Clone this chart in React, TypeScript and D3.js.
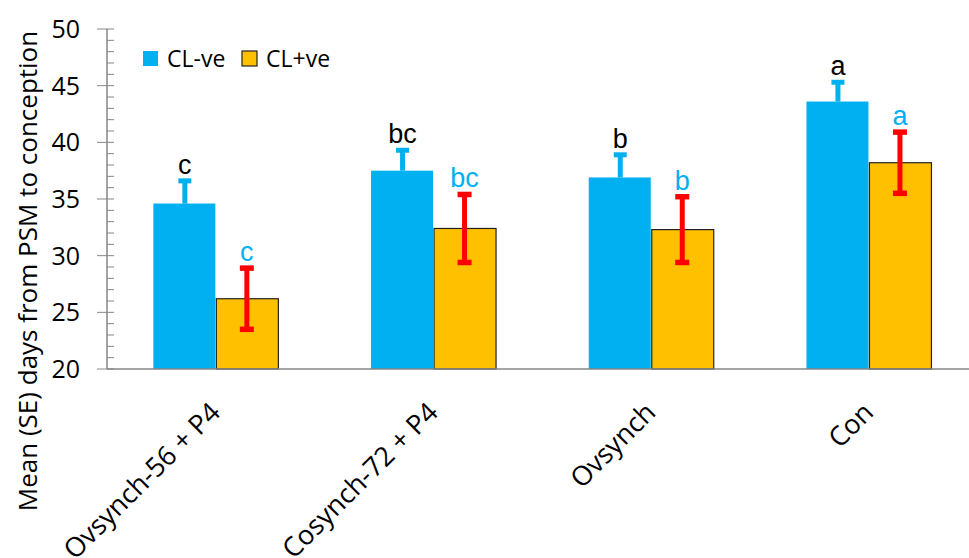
import { useRef, useEffect } from "react";
import * as d3 from "d3";

const categories = ["Ovsynch-56 + P4", "Cosynch-72 + P4", "Ovsynch", "Con"];
const series = ["CL-ve", "CL+ve"];
const clNeg = [34.6, 37.5, 36.9, 43.6];
const clNegSE = [2.0, 1.8, 2.0, 1.7];
const clPos = [26.2, 32.4, 32.3, 38.2];
const clPosSE = [2.7, 3.0, 2.9, 2.7];
const clNegLetters = ["c", "bc", "b", "a"];
const clPosLetters = ["c", "bc", "b", "a"];
const yTicks = [20, 25, 30, 35, 40, 45, 50];

const BLUE = "#00B0F0";
const ORANGE = "#FFC000";
const RED = "#FF0000";
const AXIS = "#868686";
const FONT = "'Open Sans', 'Noto Sans', sans-serif";
const LETTER_FONT = "'Liberation Sans', Arial, sans-serif";

const App = () => {
  const ref = useRef<SVGSVGElement>(null);

  useEffect(() => {
    if (!ref.current) return;
    const svg = d3.select(ref.current);
    svg.selectAll("*").remove();

    const left = 107;
    const step = 217.7;
    const x0 = d3
      .scaleBand<string>()
      .domain(categories)
      .range([left, left + step * categories.length]);
    const barW = 62;
    const y = d3.scaleLinear().domain([20, 50]).range([369, 29]);

    // minor ticks (inside)
    const minor = d3.range(20, 51, 1).filter((v) => v % 5 !== 0);
    svg
      .append("g")
      .selectAll("line")
      .data(minor)
      .join("line")
      .attr("x1", left)
      .attr("x2", left + 7)
      .attr("y1", (d) => y(d))
      .attr("y2", (d) => y(d))
      .attr("stroke", AXIS)
      .attr("stroke-width", 1);

    // major ticks
    svg
      .append("g")
      .selectAll("line")
      .data(yTicks)
      .join("line")
      .attr("x1", left - 10)
      .attr("x2", left + 7)
      .attr("y1", (d) => y(d))
      .attr("y2", (d) => y(d))
      .attr("stroke", AXIS)
      .attr("stroke-width", 1);

    svg
      .append("g")
      .selectAll("text")
      .data(yTicks)
      .join("text")
      .attr("x", left - 27)
      .attr("y", (d) => y(d))
      .attr("dy", "0.36em")
      .attr("text-anchor", "end")
      .attr("font-family", FONT)
      .attr("font-size", 25)
      .attr("fill", "#000")
      .text((d) => d);

    // y axis line
    svg
      .append("line")
      .attr("x1", left)
      .attr("x2", left)
      .attr("y1", y(50))
      .attr("y2", y(20))
      .attr("stroke", AXIS)
      .attr("stroke-width", 1.5);

    const groups = svg
      .append("g")
      .selectAll("g")
      .data(categories)
      .join("g")
      .attr("transform", (d) => `translate(${x0(d)! + x0.bandwidth() / 2},0)`);

    // blue bars
    groups
      .append("rect")
      .attr("x", -barW - 0.5)
      .attr("y", (_, i) => y(clNeg[i]))
      .attr("width", barW)
      .attr("height", (_, i) => y(20) - y(clNeg[i]))
      .attr("fill", BLUE);

    // orange bars
    groups
      .append("rect")
      .attr("x", 0.5)
      .attr("y", (_, i) => y(clPos[i]))
      .attr("width", barW)
      .attr("height", (_, i) => y(20) - y(clPos[i]))
      .attr("fill", ORANGE)
      .attr("stroke", "#222")
      .attr("stroke-width", 1.2);

    // blue error bars (upper half shows above the bar)
    groups
      .append("line")
      .attr("x1", -barW / 2)
      .attr("x2", -barW / 2)
      .attr("y1", (_, i) => y(clNeg[i]))
      .attr("y2", (_, i) => y(clNeg[i] + clNegSE[i]))
      .attr("stroke", BLUE)
      .attr("stroke-width", 5);
    groups
      .append("line")
      .attr("x1", -barW / 2 - 6.5)
      .attr("x2", -barW / 2 + 6.5)
      .attr("y1", (_, i) => y(clNeg[i] + clNegSE[i]))
      .attr("y2", (_, i) => y(clNeg[i] + clNegSE[i]))
      .attr("stroke", BLUE)
      .attr("stroke-width", 5);

    // red error bars
    groups
      .append("line")
      .attr("x1", barW / 2)
      .attr("x2", barW / 2)
      .attr("y1", (_, i) => y(clPos[i] - clPosSE[i]))
      .attr("y2", (_, i) => y(clPos[i] + clPosSE[i]))
      .attr("stroke", RED)
      .attr("stroke-width", 5);
    [1, -1].forEach((s) => {
      groups
        .append("line")
        .attr("x1", barW / 2 - 7)
        .attr("x2", barW / 2 + 7)
        .attr("y1", (_, i) => y(clPos[i] + s * clPosSE[i]))
        .attr("y2", (_, i) => y(clPos[i] + s * clPosSE[i]))
        .attr("stroke", RED)
        .attr("stroke-width", 5.5);
    });

    // significance letters
    groups
      .append("text")
      .attr("x", -barW / 2)
      .attr("y", (_, i) => y(clNeg[i] + clNegSE[i]) - 7)
      .attr("text-anchor", "middle")
      .attr("font-family", LETTER_FONT)
      .attr("font-size", 27)
      .attr("fill", "#000")
      .text((_, i) => clNegLetters[i]);
    groups
      .append("text")
      .attr("x", barW / 2)
      .attr("y", (_, i) => y(clPos[i] + clPosSE[i]) - 7)
      .attr("text-anchor", "middle")
      .attr("font-family", LETTER_FONT)
      .attr("font-size", 27)
      .attr("fill", BLUE)
      .text((_, i) => clPosLetters[i]);

    // x axis line
    svg
      .append("line")
      .attr("x1", left)
      .attr("x2", 969)
      .attr("y1", y(20))
      .attr("y2", y(20))
      .attr("stroke", AXIS)
      .attr("stroke-width", 1.5);

    // category labels
    groups
      .append("text")
      .attr("transform", "translate(6,414) rotate(-45)")
      .attr("text-anchor", "end")
      .attr("font-family", FONT)
      .attr("font-size", 27)
      .attr("fill", "#000")
      .text((d) => d);

    // y title
    svg
      .append("text")
      .attr("transform", "translate(37,271) rotate(-90)")
      .attr("text-anchor", "middle")
      .attr("font-family", FONT)
      .attr("font-size", 26)
      .attr("fill", "#000")
      .text("Mean (SE) days from PSM to conception");

    // legend
    const legend = svg
      .append("g")
      .selectAll("g")
      .data(series)
      .join("g")
      .attr("transform", (_, i) => `translate(${143 + i * 99},51)`);
    legend
      .append("rect")
      .attr("width", 15)
      .attr("height", 15)
      .attr("fill", (_, i) => (i === 0 ? BLUE : ORANGE))
      .attr("stroke", (_, i) => (i === 0 ? "none" : "#222"))
      .attr("stroke-width", 1.2);
    legend
      .append("text")
      .attr("x", 24)
      .attr("y", 16)
      .attr("font-family", FONT)
      .attr("font-size", 23)
      .attr("fill", "#000")
      .text((d) => d);
  }, []);

  return (
    <svg
      ref={ref}
      width={969}
      height={558}
      style={{ position: "absolute", left: 0, top: 0, background: "#fff" }}
    />
  );
};

export default App;
